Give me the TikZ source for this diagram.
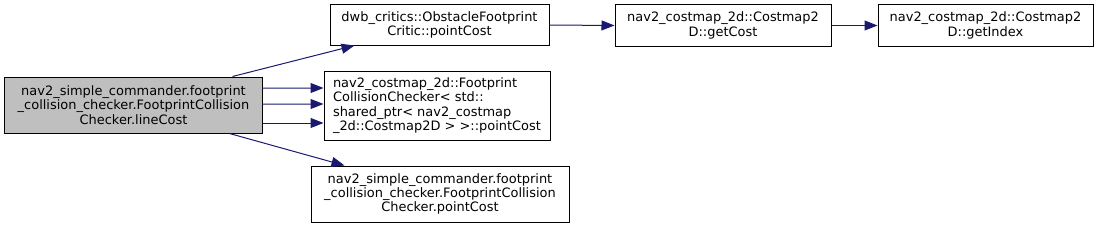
\documentclass[tikz,border=0pt]{standalone}
\usepackage{fontspec}
\setmainfont{DejaVu Sans}
\usetikzlibrary{calc,arrows.meta}
\definecolor{edge}{HTML}{191970}
\tikzset{
  box/.style={draw=black, fill=white, line width=1bp, inner sep=0pt, align=center, font=\fontsize{13}{14.3}\selectfont},
  conn/.style={draw=edge, line width=1bp, -{Triangle[length=13bp,width=10bp]}},
}
\begin{document}
\begin{tikzpicture}[x=1bp,y=1bp]
\useasboundingbox (0,0) rectangle (1099,227);
\node[box, fill={rgb,255:red,191;green,191;blue,191}, minimum width=257bp, minimum height=56bp] (A) at (133.5,122) {nav2\_simple\_commander.footprint\\\_collision\_checker.FootprintCollision\\Checker.lineCost};
\node[box, minimum width=219bp, minimum height=40bp] (B) at (439.5,202) {dwb\_critics::ObstacleFootprint\\Critic::pointCost};
\node[box, align=left, minimum width=226bp, minimum height=69bp] (C) at (437,121.5) {nav2\_costmap\_2d::Footprint\\CollisionChecker< std::\\shared\_ptr< nav2\_costmap\\\_2d::Costmap2D > >::pointCost};
\node[box, minimum width=258bp, minimum height=56bp] (D) at (440,33) {nav2\_simple\_commander.footprint\\\_collision\_checker.FootprintCollision\\Checker.pointCost};
\node[box, minimum width=216bp, minimum height=41bp] (E) at (723,201.5) {nav2\_costmap\_2d::Costmap2\\D::getCost};
\node[box, minimum width=215bp, minimum height=41bp] (F) at (985.5,201.5) {nav2\_costmap\_2d::Costmap2\\D::getIndex};
\draw[conn] ($(A.north west)+(228,0)$) -- ($(B.south west)+(25,0)$);
\draw[conn] ($(A.east)+(0,17)$) -- ($(C.west)+(0,17.5)$);
\draw[conn] ($(A.east)+(0,1)$) -- ($(C.west)+(0,1.5)$);
\draw[conn] ($(A.east)+(0,-18)$) -- ($(C.west)+(0,-17.5)$);
\draw[conn] ($(A.south west)+(225,0)$) -- ($(D.north west)+(34,0)$);
\draw[conn] (B.east) -- (E.west);
\draw[conn] (E.east) -- (F.west);
\end{tikzpicture}
\end{document}
